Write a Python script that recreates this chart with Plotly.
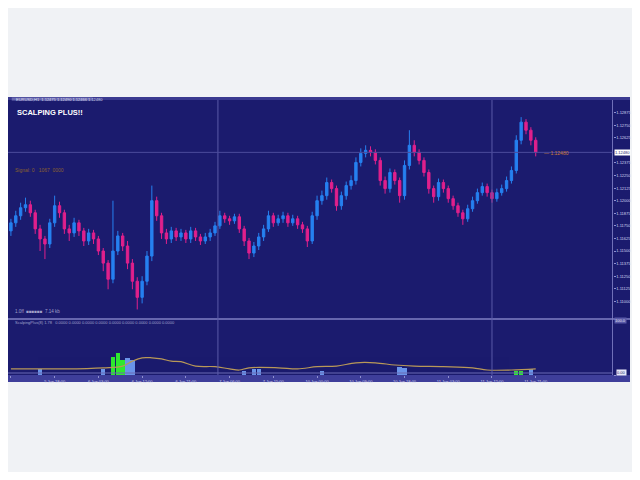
import plotly.graph_objects as go

# ---------------- data ----------------
candle_idx = list(range(109))
opens = [1.1170, 1.1178, 1.1185, 1.1193, 1.1196, 1.1188, 1.1172, 1.1162, 1.1157, 1.1178,
         1.1195, 1.1188, 1.1172, 1.1168, 1.1178, 1.1170, 1.1160, 1.1168, 1.1162, 1.1150,
         1.1138, 1.1122, 1.1150, 1.1165, 1.1155, 1.1138, 1.1120, 1.1104, 1.1120, 1.1145,
         1.1200, 1.1185, 1.1168, 1.1162, 1.1170, 1.1164, 1.1168, 1.1162, 1.1170, 1.1164,
         1.1160, 1.1164, 1.1168, 1.1175, 1.1185, 1.1182, 1.1180, 1.1184, 1.1172, 1.1160,
         1.1148, 1.1155, 1.1164, 1.1172, 1.1185, 1.1178, 1.1182, 1.1185, 1.1178, 1.1182,
         1.1176, 1.1172, 1.1160, 1.1185, 1.1200, 1.1205, 1.1218, 1.1212, 1.1195, 1.1205,
         1.1215, 1.1220, 1.1238, 1.1247, 1.1250, 1.1248, 1.1240, 1.1220, 1.1212, 1.1228,
         1.1220, 1.1205, 1.1235, 1.1255, 1.1248, 1.1240, 1.1228, 1.1212, 1.1204, 1.1218,
         1.1212, 1.1202, 1.1195, 1.1188, 1.1182, 1.1192, 1.1200, 1.1208, 1.1214, 1.1208,
         1.1202, 1.1208, 1.1212, 1.1220, 1.1230, 1.1260, 1.1278, 1.1270, 1.1260]
closes = [1.1178, 1.1185, 1.1193, 1.1196, 1.1188, 1.1172, 1.1162, 1.1157, 1.1178, 1.1195,
          1.1188, 1.1172, 1.1168, 1.1178, 1.1170, 1.1160, 1.1168, 1.1162, 1.1150, 1.1138,
          1.1122, 1.1150, 1.1165, 1.1155, 1.1138, 1.1120, 1.1104, 1.1120, 1.1145, 1.1200,
          1.1185, 1.1168, 1.1162, 1.1170, 1.1164, 1.1168, 1.1162, 1.1170, 1.1164, 1.1160,
          1.1164, 1.1168, 1.1175, 1.1185, 1.1182, 1.1180, 1.1184, 1.1172, 1.1160, 1.1148,
          1.1155, 1.1164, 1.1172, 1.1185, 1.1178, 1.1182, 1.1185, 1.1178, 1.1182, 1.1176,
          1.1172, 1.1160, 1.1185, 1.1200, 1.1205, 1.1218, 1.1212, 1.1195, 1.1205, 1.1215,
          1.1220, 1.1238, 1.1247, 1.1250, 1.1248, 1.1240, 1.1220, 1.1212, 1.1228, 1.1220,
          1.1205, 1.1235, 1.1255, 1.1248, 1.1240, 1.1228, 1.1212, 1.1204, 1.1218, 1.1212,
          1.1202, 1.1195, 1.1188, 1.1182, 1.1192, 1.1200, 1.1208, 1.1214, 1.1208, 1.1202,
          1.1208, 1.1212, 1.1220, 1.1230, 1.1260, 1.1278, 1.1270, 1.1260, 1.1248]
highs = [1.1182, 1.1190, 1.1198, 1.1203, 1.1200, 1.1191, 1.1176, 1.1165, 1.1182, 1.1205,
         1.1199, 1.1191, 1.1176, 1.1183, 1.1181, 1.1173, 1.1172, 1.1171, 1.1165, 1.1153,
         1.1141, 1.1200, 1.1170, 1.1168, 1.1160, 1.1142, 1.1124, 1.1125, 1.1150, 1.1215,
         1.1204, 1.1188, 1.1172, 1.1174, 1.1173, 1.1172, 1.1171, 1.1174, 1.1173, 1.1167,
         1.1168, 1.1172, 1.1179, 1.1190, 1.1188, 1.1185, 1.1187, 1.1187, 1.1175, 1.1163,
         1.1159, 1.1168, 1.1176, 1.1190, 1.1188, 1.1186, 1.1189, 1.1188, 1.1186, 1.1185,
         1.1179, 1.1175, 1.1189, 1.1205, 1.1210, 1.1223, 1.1221, 1.1215, 1.1209, 1.1219,
         1.1225, 1.1243, 1.1252, 1.1255, 1.1254, 1.1251, 1.1243, 1.1224, 1.1232, 1.1231,
         1.1223, 1.1240, 1.1270, 1.1260, 1.1251, 1.1243, 1.1231, 1.1215, 1.1222, 1.1221,
         1.1215, 1.1205, 1.1198, 1.1191, 1.1196, 1.1204, 1.1212, 1.1218, 1.1217, 1.1211,
         1.1212, 1.1216, 1.1224, 1.1234, 1.1265, 1.1283, 1.1281, 1.1273, 1.1263]
lows = [1.1165, 1.1174, 1.1181, 1.1189, 1.1184, 1.1167, 1.1150, 1.1142, 1.1153, 1.1174,
        1.1183, 1.1167, 1.1160, 1.1164, 1.1165, 1.1155, 1.1156, 1.1157, 1.1146, 1.1130,
        1.1112, 1.1118, 1.1146, 1.1150, 1.1132, 1.1112, 1.1092, 1.1098, 1.1116, 1.1140,
        1.1180, 1.1162, 1.1157, 1.1158, 1.1160, 1.1160, 1.1158, 1.1158, 1.1160, 1.1156,
        1.1157, 1.1160, 1.1165, 1.1172, 1.1178, 1.1176, 1.1177, 1.1168, 1.1155, 1.1142,
        1.1144, 1.1151, 1.1160, 1.1169, 1.1174, 1.1175, 1.1178, 1.1174, 1.1175, 1.1172,
        1.1168, 1.1154, 1.1157, 1.1181, 1.1196, 1.1201, 1.1208, 1.1190, 1.1191, 1.1201,
        1.1211, 1.1216, 1.1234, 1.1243, 1.1244, 1.1236, 1.1215, 1.1207, 1.1208, 1.1216,
        1.1198, 1.1201, 1.1231, 1.1244, 1.1236, 1.1224, 1.1207, 1.1198, 1.1200, 1.1208,
        1.1198, 1.1191, 1.1184, 1.1176, 1.1179, 1.1189, 1.1197, 1.1205, 1.1204, 1.1198,
        1.1199, 1.1205, 1.1209, 1.1217, 1.1227, 1.1256, 1.1266, 1.1255, 1.1244]

bid_price = 1.12480

price_ticks = [1.11000, 1.11125, 1.11250, 1.11375, 1.11500, 1.11625, 1.11750, 1.11875,
               1.12000, 1.12125, 1.12250, 1.12375, 1.12625, 1.12750, 1.12875]

# lower indicator line
ind_idx = [0, 5, 11, 19, 23, 25, 27, 29, 31, 33, 35, 38, 42, 45, 47, 49, 55, 59, 63, 67,
           71, 75, 79, 83, 89, 95, 98, 103, 108]
ind_val = [11, 11, 11, 13, 16, 25, 31, 31, 29, 25, 24, 16, 15, 11, 9, 13, 13, 11, 15, 16,
           22, 22, 18, 16, 15, 13, 9, 9, 11]

# signal histogram
green_idx = [21, 22, 23, 104, 105]
green_val = [34, 40, 28, 9, 9]
blue_idx = [6, 19, 24, 25, 48, 50, 51, 64, 80, 81, 107]
blue_val = [12, 12, 32, 28, 9, 11, 11, 9, 16, 14, 12]

time_tickvals = list(range(0, 109, 9))
time_ticktext = ["5 Jun 2019", "5 Jun 18:00", "6 Jun 03:00", "6 Jun 12:00", "6 Jun 21:00",
                 "7 Jun 06:00", "7 Jun 15:00", "10 Jun 00:00", "10 Jun 09:00", "10 Jun 18:00",
                 "11 Jun 03:00", "11 Jun 12:00", "11 Jun 21:00"]

# ---------------- style ----------------
NAVY = "#1b1b6e"
BLUE = "#2680f0"
PINK = "#e0208c"
GRID = "#5a5aa8"
W, HT = 624, 464
TOP = 89            # chart top inside the figure
H = 285.0           # chart height
XDOM = 1 - 18 / 640


def py(pix):
    # pix measured from the chart top (0 = top edge of the chart)
    return (H - pix) / H


fig = go.Figure()
fig.add_trace(go.Candlestick(
    x=candle_idx, open=opens, high=highs, low=lows, close=closes,
    increasing=dict(line=dict(color=BLUE, width=1), fillcolor=BLUE),
    decreasing=dict(line=dict(color=PINK, width=1), fillcolor=PINK),
    whiskerwidth=0, xaxis="x", yaxis="y", showlegend=False, hoverinfo="skip"))

fig.add_trace(go.Bar(x=blue_idx, y=blue_val, marker=dict(color="#78aaff", line=dict(width=0)),
                     width=0.9, xaxis="x2", yaxis="y2", showlegend=False, opacity=0.85))
fig.add_trace(go.Bar(x=green_idx, y=green_val, marker=dict(color="#2ee82e", line=dict(width=0)),
                     width=0.9, xaxis="x2", yaxis="y2", showlegend=False))
fig.add_trace(go.Scatter(x=ind_idx, y=ind_val, mode="lines",
                         line=dict(color="#b89858", width=1.2, shape="spline"),
                         xaxis="x2", yaxis="y2", showlegend=False))

xr = [-0.6, 123.8]
shapes = [
    dict(type="rect", xref="paper", yref="paper", x0=0, x1=1, y0=0, y1=1,
         fillcolor=NAVY, line=dict(width=0), layer="below"),
    # time strip
    dict(type="rect", xref="paper", yref="paper", x0=0, x1=1, y0=0, y1=py(278),
         fillcolor="#3e3e9a", line=dict(width=0), layer="below"),
    # top strip
    dict(type="rect", xref="paper", yref="paper", x0=0, x1=1, y0=py(3), y1=1,
         fillcolor="#3a3a90", line=dict(width=0), layer="below"),
    dict(type="rect", xref="paper", yref="paper", x0=0.006, x1=87 / 640, y0=py(3.5), y1=py(0.5),
         fillcolor="#6a6ab0", line=dict(width=0), layer="below"),
    # right axis separator
    dict(type="line", xref="paper", yref="paper", x0=XDOM, x1=XDOM, y0=py(278), y1=py(3),
         line=dict(color="#7070b8", width=1)),
    # panel separator
    dict(type="line", xref="paper", yref="paper", x0=0, x1=1, y0=py(222), y1=py(222),
         line=dict(color="#8080c4", width=1.5)),
    # lower panel bottom line
    dict(type="line", xref="paper", yref="paper", x0=0, x1=XDOM, y0=py(276), y1=py(276),
         line=dict(color="#6a6ab4", width=1)),
    # period separators
    dict(type="line", xref="paper", yref="paper", x0=216 / 640, x1=216 / 640, y0=py(278), y1=py(3),
         line=dict(color=GRID, width=1)),
    dict(type="line", xref="paper", yref="paper", x0=498 / 640, x1=498 / 640, y0=py(278), y1=py(3),
         line=dict(color=GRID, width=1)),
    # bid line
    dict(type="line", xref="paper", yref="y", x0=0, x1=XDOM, y0=bid_price, y1=bid_price,
         line=dict(color="#4c4c9c", width=1)),
]

annotations = [
    dict(text="EURUSD,H1  1.12475 1.12490 1.12466 1.12480", xref="paper", yref="paper",
         x=0.01, y=py(2), xanchor="left", yanchor="middle", showarrow=False,
         font=dict(size=4, color="#dcdcf0", family="Arial")),
    dict(text="<b>SCALPING PLUS!!</b>", xref="paper", yref="paper", x=0.011, y=py(16),
         xanchor="left", yanchor="middle", showarrow=False,
         font=dict(size=7.5, color="#ffffff", family="Arial")),
    dict(text="Signal: 0   1067  0000", xref="paper", yref="paper", x=0.008, y=py(73),
         xanchor="left", yanchor="middle", showarrow=False,
         font=dict(size=5, color="#8a6030", family="Arial")),
    dict(text="1.0ff  ■■■■■■  7.14 kb", xref="paper", yref="paper", x=0.008, y=py(214),
         xanchor="left", yanchor="middle", showarrow=False,
         font=dict(size=4.5, color="#a0a0c8", family="Arial")),
    dict(text="ScalpingPlus(8) 1.78   0.0000 0.0000 0.0000 0.0000 0.0000 0.0000 0.0000 0.0000 0.0000",
         xref="paper", yref="paper", x=0.008, y=py(225.5), xanchor="left", yanchor="middle",
         showarrow=False, font=dict(size=4, color="#a0a0cc", family="Arial")),
    dict(text="— 1.12480", xref="x", yref="y", x=109.2, y=bid_price - 0.00008,
         xanchor="left", yanchor="middle", showarrow=False,
         font=dict(size=5, color="#c87a3a", family="Arial")),
    dict(text="1.12480", xref="paper", yref="y", x=XDOM + 0.002, y=bid_price,
         xanchor="left", yanchor="middle", showarrow=False, bgcolor="#ffffff",
         font=dict(size=4, color=NAVY, family="Arial"), borderpad=0),
    dict(text="100.0", xref="paper", yref="paper", x=XDOM + 0.003, y=py(223.5),
         xanchor="left", yanchor="middle", showarrow=False, bgcolor="#5a5aa8",
         font=dict(size=4, color="#e0e0f4", family="Arial"), borderpad=0),
    dict(text="0.00", xref="paper", yref="paper", x=XDOM + 0.006, y=py(275),
         xanchor="left", yanchor="middle", showarrow=False, bgcolor="#e8e8f8",
         font=dict(size=4, color=NAVY, family="Arial"), borderpad=0),
]

fig.update_layout(
    width=W, height=HT,
    margin=dict(l=0, r=0, t=TOP, b=HT - TOP - int(H)),
    paper_bgcolor="#f0f2f5", plot_bgcolor=NAVY,
    bargap=0, barmode="overlay",
    xaxis=dict(domain=[0, XDOM], range=xr, anchor="y", showticklabels=False, showgrid=False,
               zeroline=False, showline=False, rangeslider=dict(visible=False), fixedrange=True),
    yaxis=dict(domain=[py(222.5), py(3)], range=[1.1082, 1.1300], anchor="free",
               position=XDOM, side="right", showgrid=False, zeroline=False,
               tickvals=price_ticks, tickformat=".5f", ticks="outside", ticklen=2,
               tickcolor="#9090d0", tickfont=dict(size=4, color="#d4d4ee", family="Arial"),
               showline=False),
    xaxis2=dict(domain=[0, XDOM], range=xr, anchor="y2", showgrid=False, zeroline=False,
                tickvals=time_tickvals, ticktext=time_ticktext, tickangle=0, ticks="outside",
                ticklen=2, tickcolor="#9090d0",
                tickfont=dict(size=4, color="#d4d4ee", family="Arial"), showline=False),
    yaxis2=dict(domain=[py(278), py(222.5)], range=[0, 100], anchor="free", position=XDOM,
                side="right", showgrid=False, zeroline=False, showticklabels=False,
                tickvals=[0, 100], ticks="outside", ticklen=2, tickcolor="#9090d0"),
    shapes=shapes, annotations=annotations,
)

fig.write_html("out.html")
